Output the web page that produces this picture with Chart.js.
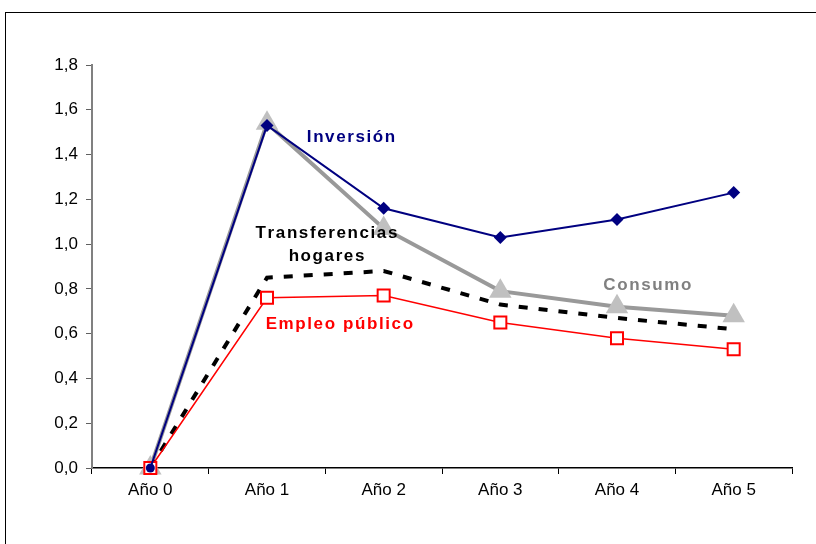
<!DOCTYPE html>
<html>
<head>
<meta charset="utf-8">
<script src="https://cdn.jsdelivr.net/npm/chart.js@4/dist/chart.umd.min.js"></script>
<style>
  body { margin: 0; background: #fff; overflow: hidden; }
  #marco { position: absolute; left: 5px; top: 12px; width: 900px; height: 600px; border: 1px solid #000; }
  #grafico { position: absolute; left: 0; top: 0; }
</style>
</head>
<body>
<div id="marco"></div>
<canvas id="grafico" width="816" height="544"></canvas>
<script>
// Datos
const anios = ["Año 0", "Año 1", "Año 2", "Año 3", "Año 4", "Año 5"];
const inversion = [0, 1.53, 1.16, 1.03, 1.11, 1.23];
const consumo = [0, 1.54, 1.07, 0.79, 0.72, 0.68];
const transferencias = [0, 0.85, 0.88, 0.73, 0.67, 0.62];
const empleoPublico = [0, 0.76, 0.77, 0.65, 0.58, 0.53];

// Rótulos de las series dentro del gráfico (posición en índice de categoría / valor)
const rotulos = [
    { texto: ["Inversión"], x: 1.72, y: 1.478, color: "#000080" },
    { texto: ["Transferencias", "hogares"], x: 1.51, y: 1.049, color: "#000000" },
    { texto: ["Consumo"], x: 4.26, y: 0.817, color: "#808080" },
    { texto: ["Empleo público"], x: 1.62, y: 0.643, color: "#FF0000" }
];

// Dibuja texto con espaciado entre letras, centrado
function textoEspaciado(ctx, texto, cx, cy, espacio) {
    let ancho = 0;
    for (const c of texto) ancho += ctx.measureText(c).width;
    ancho += espacio * (texto.length - 1);
    let x = cx - ancho / 2;
    for (const c of texto) {
        ctx.fillText(c, x, cy);
        x += ctx.measureText(c).width + espacio;
    }
}

const pluginRotulos = {
    id: 'rotulos',
    afterDatasetsDraw(chart) {
        const ctx = chart.ctx;
        const sx = chart.scales.x;
        const sy = chart.scales.y;
        ctx.save();
        ctx.font = "bold 17px 'Liberation Sans', Arial, sans-serif";
        ctx.textBaseline = 'middle';
        ctx.textAlign = 'left';
        rotulos.forEach(r => {
            ctx.fillStyle = r.color;
            const px = sx.getPixelForValue(r.x);
            let py = sy.getPixelForValue(r.y);
            r.texto.forEach(linea => {
                textoEspaciado(ctx, linea, px, py, 1.6);
                py += 23;
            });
        });
        ctx.restore();
    }
};

const ctx = document.getElementById('grafico').getContext('2d');
const grafico = new Chart(ctx, {
    type: 'line',
    data: {
        labels: anios,
        datasets: [
            {
                label: 'Inversión',
                data: inversion,
                borderColor: '#000080',
                backgroundColor: '#000080',
                borderWidth: 2,
                pointStyle: ['circle', 'rectRot', 'rectRot', 'rectRot', 'rectRot', 'rectRot'],
                pointRadius: [4.5, 6.5, 6.5, 6.5, 6.5, 6.5],
                pointBorderWidth: 0,
                clip: false,
                order: 1
            },
            {
                label: 'Empleo público',
                data: empleoPublico,
                borderColor: '#FF0000',
                backgroundColor: '#FFFFFF',
                borderWidth: 1.5,
                pointStyle: 'rect',
                pointRadius: 8.5,
                pointBorderWidth: 2,
                pointBorderColor: '#FF0000',
                clip: false,
                order: 2
            },
            {
                label: 'Transferencias hogares',
                data: transferencias,
                borderColor: '#000000',
                borderWidth: 4,
                borderDash: [9, 11],
                pointRadius: 0,
                clip: false,
                order: 3
            },
            {
                label: 'Consumo',
                data: consumo,
                borderColor: '#999999',
                backgroundColor: '#C0C0C0',
                borderWidth: 4,
                pointStyle: 'triangle',
                pointRadius: 13,
                pointBorderWidth: 0,
                clip: false,
                order: 4
            }
        ]
    },
    options: {
        responsive: false,
        animation: false,
        layout: {
            padding: { left: 0, right: 24, top: 65, bottom: 0 }
        },
        plugins: {
            legend: { display: false },
            tooltip: { enabled: false },
            title: { display: false }
        },
        scales: {
            x: {
                offset: true,
                grid: {
                    offset: true,
                    drawOnChartArea: false,
                    tickLength: 6,
                    color: '#000000'
                },
                border: { color: '#000000', width: 1.5 },
                ticks: {
                    color: '#000000',
                    padding: 6,
                    font: { family: "'Liberation Sans', Arial, sans-serif", size: 17 }
                },
                afterFit: function (scale) { scale.height = 76; }
            },
            y: {
                min: 0,
                max: 1.8,
                grid: {
                    drawOnChartArea: false,
                    tickLength: 6,
                    color: '#606060'
                },
                border: { color: '#808080', width: 2 },
                ticks: {
                    stepSize: 0.2,
                    color: '#000000',
                    padding: 8,
                    font: { family: "'Liberation Sans', Arial, sans-serif", size: 17 },
                    callback: function (value) {
                        return Number(value).toFixed(1).replace('.', ',');
                    }
                },
                afterFit: function (scale) { scale.width = 92; }
            }
        }
    },
    plugins: [pluginRotulos]
});
</script>
</body>
</html>
